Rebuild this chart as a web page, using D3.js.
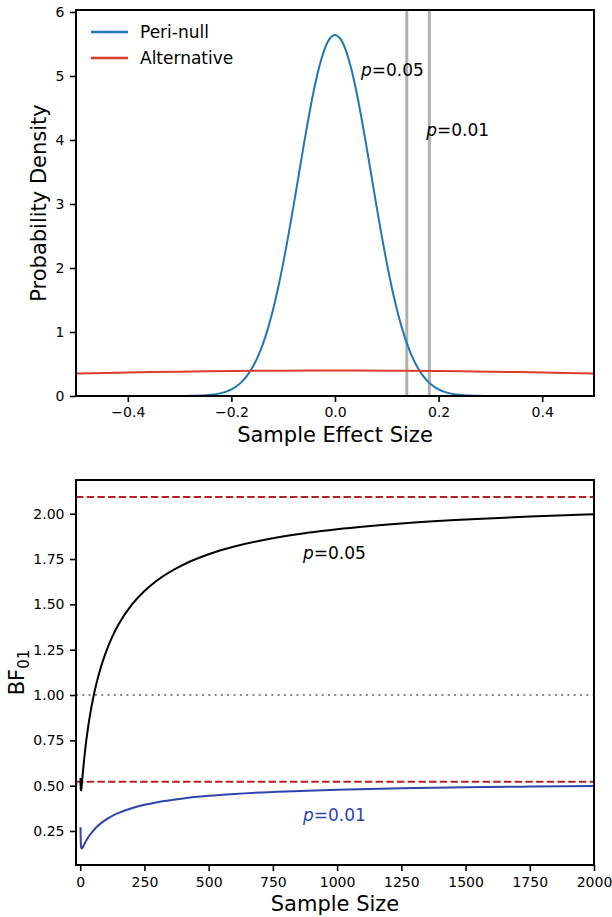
<!DOCTYPE html>
<html>
<head>
<meta charset="utf-8">
<script src="https://cdn.jsdelivr.net/npm/d3@7/dist/d3.min.js"></script>
<style>
  html, body { margin: 0; padding: 0; background: #fff; }
  svg { display: block; font-family: "DejaVu Sans", sans-serif; }
</style>
</head>
<body>
<svg id="chart" width="612" height="917"></svg>
<script>
// ---------- Top panel data ----------
const effectX = [-0.30,-0.29,-0.28,-0.27,-0.26,-0.25,-0.24,-0.23,-0.22,-0.21,-0.20,-0.19,-0.18,-0.17,-0.16,-0.15,-0.14,-0.13,-0.12,-0.11,-0.10,-0.09,-0.08,-0.07,-0.06,-0.05,-0.04,-0.03,-0.02,-0.01,
  0.00,0.01,0.02,0.03,0.04,0.05,0.06,0.07,0.08,0.09,0.10,0.11,0.12,0.13,0.14,0.15,0.16,0.17,0.18,0.19,0.20,0.21,0.22,0.23,0.24,0.25,0.26,0.27,0.28,0.29,0.30];
const periNullHalf = [5.6419,5.5858,5.4207,5.1563,4.8077,4.3939,3.9362,3.4564,2.9749,2.5098,2.0755,1.6824,1.3367,1.0410,0.7947,0.5947,0.4361,0.3136,0.2209,0.1526,0.1033,0.0686,0.0446,0.0285,0.0178,0.0109,0.0065,0.0038,0.0022,0.0012,0.0007];
const periNull = periNullHalf.slice(1).reverse().concat(periNullHalf);
const altX = [-0.5,-0.4,-0.3,-0.2,-0.1,0.0,0.1,0.2,0.3,0.4,0.5];
const altY = [0.3510,0.3673,0.3804,0.3901,0.3960,0.3979,0.3960,0.3901,0.3804,0.3673,0.3510];
const critLines = [0.1386, 0.1821];
const topXTicks = [-0.4,-0.2,0.0,0.2,0.4];
const topYTicks = [0,1,2,3,4,5,6];
const legendLabels = ["Peri-null","Alternative"];

// ---------- Bottom panel data ----------
const sampleN = [1,2,3,4,5,6,7,8,10,15,20,30,40,50,60,80,100,125,150,200,250,300,400,500,600,800,1000,1250,1500,1750,2000];
const bfP05 = [0.5425,0.4820,0.4735,0.4800,0.4921,0.5067,0.5222,0.5381,0.5696,0.6430,0.7079,0.8168,0.9058,0.9809,1.0455,1.1519,1.2369,1.3224,1.3915,1.4970,1.5742,1.6334,1.7183,1.7765,1.8189,1.8767,1.9142,1.9460,1.9681,1.9844,1.9969];
const bfP01 = [0.2708,0.1909,0.1670,0.1579,0.1546,0.1540,0.1548,0.1565,0.1610,0.1747,0.1884,0.2128,0.2335,0.2511,0.2665,0.2920,0.3124,0.3331,0.3499,0.3755,0.3944,0.4088,0.4296,0.4438,0.4542,0.4684,0.4776,0.4854,0.4908,0.4948,0.4979];
const asymptotes = [2.092, 0.521];
const refLine = 1.0;
const botXTicks = [0,250,500,750,1000,1250,1500,1750,2000];
const botYTicks = [0.25,0.50,0.75,1.00,1.25,1.50,1.75,2.00];

const svg = d3.select("#chart");
const TICK_FS = 14, LABEL_FS = 21, TEXT_FS = 17;
const minus = s => s.replace("-", "\u2212");

function styleAxis(g) {
  g.attr("font-family", "DejaVu Sans, sans-serif").attr("font-size", TICK_FS);
  g.selectAll(".domain").remove();
  g.selectAll(".tick line").attr("stroke", "#000").attr("stroke-width", 1.6);
  g.selectAll(".tick text").attr("fill", "#000");
}
function pText(g, x, y, val, color) {
  const t = g.append("text").attr("x", x).attr("y", y).attr("font-size", TEXT_FS).attr("fill", color);
  t.append("tspan").attr("font-style", "italic").text("p");
  t.append("tspan").text("=" + val);
}

// ================= TOP PANEL =================
const T = {left: 76, right: 594, top: 10, bottom: 396};
const xT = d3.scaleLinear().domain([-0.5, 0.5]).range([T.left, T.right]);
const yT = d3.scaleLinear().domain([0, 6.031]).range([T.bottom, T.top]);

const topG = svg.append("g");
svg.append("clipPath").attr("id", "clipT").append("rect")
  .attr("x", T.left).attr("y", T.top).attr("width", T.right - T.left).attr("height", T.bottom - T.top);

const plotT = topG.append("g").attr("clip-path", "url(#clipT)");
plotT.selectAll("line.crit").data(critLines).enter().append("line")
  .attr("class", "crit")
  .attr("x1", d => xT(d)).attr("x2", d => xT(d))
  .attr("y1", T.top).attr("y2", T.bottom)
  .attr("stroke", "#b0b0b0").attr("stroke-width", 3);

plotT.append("path")
  .datum(effectX.map((x, i) => [x, periNull[i]]))
  .attr("d", d3.line().x(d => xT(d[0])).y(d => yT(d[1])).curve(d3.curveCatmullRom))
  .attr("fill", "none").attr("stroke", "#1f77b4").attr("stroke-width", 2);

plotT.append("path")
  .datum(altX.map((x, i) => [x, altY[i]]))
  .attr("d", d3.line().x(d => xT(d[0])).y(d => yT(d[1])).curve(d3.curveCatmullRom))
  .attr("fill", "none").attr("stroke", "#dd3a2c").attr("stroke-width", 2);

pText(topG, xT(0.05), yT(5.0), "0.05", "#000");
pText(topG, xT(0.176), yT(4.06), "0.01", "#000");

topG.append("g").attr("transform", `translate(0,${T.bottom})`)
  .call(d3.axisBottom(xT).tickValues(topXTicks).tickSize(6).tickPadding(5).tickSizeOuter(0)
    .tickFormat(d => minus(d3.format(".1f")(d))))
  .call(styleAxis);
topG.append("g").attr("transform", `translate(${T.left},0)`)
  .call(d3.axisLeft(yT).tickValues(topYTicks).tickSize(6).tickPadding(5.5).tickSizeOuter(0)
    .tickFormat(d3.format("d")))
  .call(styleAxis);

topG.append("rect").attr("x", T.left).attr("y", T.top)
  .attr("width", T.right - T.left).attr("height", T.bottom - T.top)
  .attr("fill", "none").attr("stroke", "#000").attr("stroke-width", 2);

topG.append("text").attr("x", (T.left + T.right) / 2).attr("y", 441.5)
  .attr("text-anchor", "middle").attr("font-size", LABEL_FS).attr("fill", "#000")
  .text("Sample Effect Size");
topG.append("text").attr("transform", `translate(46,${(T.top + T.bottom) / 2}) rotate(-90)`)
  .attr("text-anchor", "middle").attr("font-size", LABEL_FS).attr("fill", "#000")
  .text("Probability Density");

const legColors = ["#1f77b4", "#dd3a2c"];
const leg = topG.append("g");
legendLabels.forEach((lab, i) => {
  const y = 32 + i * 26;
  leg.append("line").attr("x1", 91).attr("x2", 128).attr("y1", y).attr("y2", y)
    .attr("stroke", legColors[i]).attr("stroke-width", 2.5);
  leg.append("text").attr("x", 140).attr("y", y).attr("dy", "0.36em")
    .attr("font-size", TEXT_FS).attr("fill", "#000").text(lab);
});

// ================= BOTTOM PANEL =================
const B = {left: 76, right: 594, top: 480, bottom: 865};
const xB = d3.scaleLinear().domain([-16.5, 2000]).range([B.left, B.right]);
const yB = d3.scaleLinear().domain([0.0625, 2.186]).range([B.bottom, B.top]);

const botG = svg.append("g");
svg.append("clipPath").attr("id", "clipB").append("rect")
  .attr("x", B.left).attr("y", B.top).attr("width", B.right - B.left).attr("height", B.bottom - B.top);
const plotB = botG.append("g").attr("clip-path", "url(#clipB)");

plotB.append("line").attr("x1", B.left).attr("x2", B.right)
  .attr("y1", yB(refLine)).attr("y2", yB(refLine))
  .attr("stroke", "#888").attr("stroke-width", 2).attr("stroke-dasharray", "2,4.3");

plotB.selectAll("line.asym").data(asymptotes).enter().append("line")
  .attr("class", "asym")
  .attr("x1", B.left).attr("x2", B.right)
  .attr("y1", d => yB(d)).attr("y2", d => yB(d))
  .attr("stroke", "#b22222").attr("stroke-width", 2).attr("stroke-dasharray", "7.4,3.3");

const lineB = d3.line().x(d => xB(d[0])).y(d => yB(d[1])).curve(d3.curveMonotoneX);
plotB.append("path").datum(sampleN.map((n, i) => [n, bfP05[i]]))
  .attr("d", lineB).attr("fill", "none").attr("stroke", "#000").attr("stroke-width", 2);
plotB.append("path").datum(sampleN.map((n, i) => [n, bfP01[i]]))
  .attr("d", lineB).attr("fill", "none").attr("stroke", "#2f45ad").attr("stroke-width", 2);

pText(botG, xB(867), yB(1.752), "0.05", "#000");
pText(botG, xB(867), yB(0.306), "0.01", "#2f45ad");

botG.append("g").attr("transform", `translate(0,${B.bottom})`)
  .call(d3.axisBottom(xB).tickValues(botXTicks).tickSize(6).tickPadding(6).tickSizeOuter(0)
    .tickFormat(d3.format("d")))
  .call(styleAxis);
botG.append("g").attr("transform", `translate(${B.left},0)`)
  .call(d3.axisLeft(yB).tickValues(botYTicks).tickSize(6).tickPadding(5.5).tickSizeOuter(0)
    .tickFormat(d3.format(".2f")))
  .call(styleAxis);

botG.append("rect").attr("x", B.left).attr("y", B.top)
  .attr("width", B.right - B.left).attr("height", B.bottom - B.top)
  .attr("fill", "none").attr("stroke", "#000").attr("stroke-width", 2);

botG.append("text").attr("x", (B.left + B.right) / 2).attr("y", 911)
  .attr("text-anchor", "middle").attr("font-size", LABEL_FS).attr("fill", "#000")
  .text("Sample Size");
const yl = botG.append("text").attr("transform", `translate(24,${(B.top + B.bottom) / 2}) rotate(-90)`)
  .attr("text-anchor", "middle").attr("font-size", LABEL_FS).attr("fill", "#000");
yl.append("tspan").text("BF");
yl.append("tspan").attr("font-size", 15).attr("dy", 5).text("01");
</script>
</body>
</html>
